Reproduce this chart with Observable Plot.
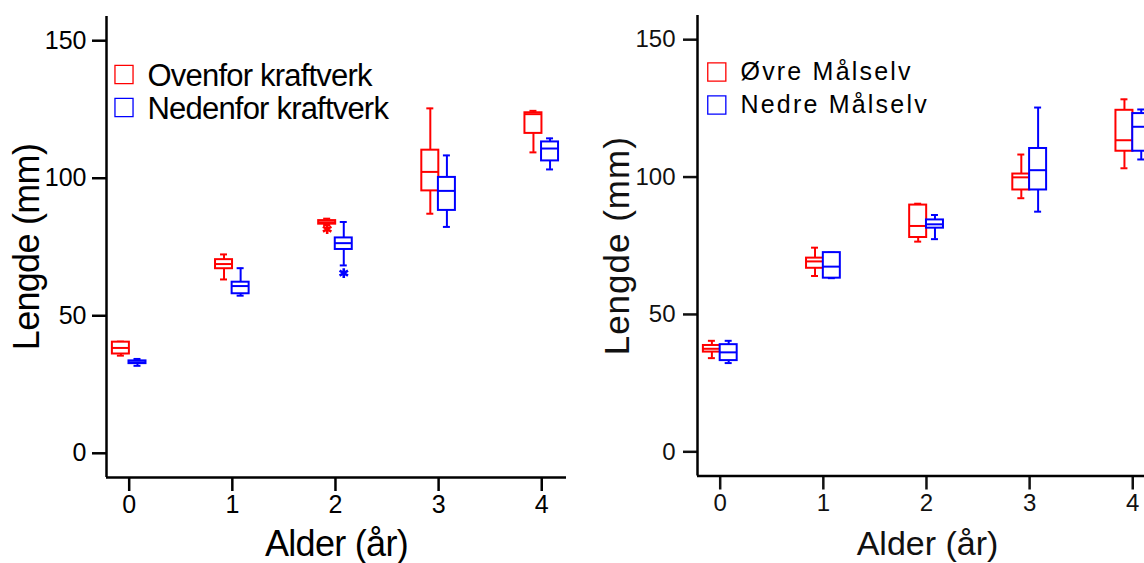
<!DOCTYPE html>
<html><head><meta charset="utf-8">
<script src="https://cdn.jsdelivr.net/npm/d3@7"></script>
<script src="https://cdn.jsdelivr.net/npm/@observablehq/plot@0.6"></script>
<style>
html,body{margin:0;padding:0;background:#fff;}
body{width:1144px;height:563px;overflow:hidden;position:relative;}
#left{position:absolute;left:0;top:0;width:580px;}
#right{position:absolute;left:590px;top:0;width:600px;}
svg{overflow:visible;max-width:none !important;}
</style></head><body>
<div id="left"></div><div id="right"></div>
<script>
// ---- data ----
const ages = [0, 1, 2, 3, 4];
const yTicks = [0, 50, 100, 150];

// Left panel: Ovenfor / Nedenfor kraftverk
const leftNames = ["Ovenfor kraftverk", "Nedenfor kraftverk"];
const ovenLo  = [35.5, 63.2, 83.0,  87.1, 109.4];
const ovenQ1  = [36.1, 67.1, 83.3,  95.4, 116.3];
const ovenMed = [38.3, 68.8, 84.0, 102.3, 123.3];
const ovenQ3  = [40.4, 70.4, 84.6, 110.2, 123.8];
const ovenHi  = [40.6, 72.3, 85.3, 125.4, 124.5];
const ovenOutAge = [2];
const ovenOutVal = [81.5];

const nedLo  = [31.8, 57.3, 68.3,  82.3, 103.2];
const nedQ1  = [32.6, 58.0, 74.1,  88.3, 106.3];
const nedMed = [33.1, 60.8, 76.4,  95.4, 110.8];
const nedQ3  = [33.6, 62.2, 78.3, 100.3, 113.2];
const nedHi  = [34.3, 67.3, 84.1, 108.3, 114.5];
const nedOutAge = [2];
const nedOutVal = [65.5];

// Right panel: Øvre / Nedre Målselv
const rightNames = ["Øvre Målselv", "Nedre Målselv"];
const ovreLo  = [34.1, 64.0, 76.5,  92.3, 103.2];
const ovreQ1  = [36.3, 66.8, 78.0,  95.3, 109.4];
const ovreMed = [37.5, 69.3, 82.2,  99.9, 113.4];
const ovreQ3  = [38.7, 70.5, 89.8, 101.1, 124.3];
const ovreHi  = [40.4, 74.3, 90.3, 108.2, 128.3];

const nedreLo  = [32.3, 63.2, 77.4,  87.4, 106.4];
const nedreQ1  = [33.2, 63.2, 81.4,  95.3, 109.4];
const nedreMed = [36.2, 67.4, 82.8, 102.5, 118.3];
const nedreQ3  = [39.0, 72.5, 84.4, 110.4, 123.1];
const nedreHi  = [40.4, 72.5, 86.2, 125.3, 124.6];

const xLabel = "Alder (år)";
const yLabel = "Lengde (mm)";

// ---- helpers ----
function rows(lo, q1, med, q3, hi) {
  return ages.map((a, i) => ({age: a, lo: lo[i], q1: q1[i], med: med[i], q3: q3[i], hi: hi[i]}));
}
function boxMarks(data, color, off) {
  const hw = -8.5, cap = -3.5, sw = 2;
  return [
    Plot.ruleX(data, {x: "age", y1: "q3", y2: "hi", dx: off, stroke: color, strokeWidth: sw}),
    Plot.ruleX(data, {x: "age", y1: "lo", y2: "q1", dx: off, stroke: color, strokeWidth: sw}),
    Plot.ruleY(data, {x1: "age", x2: "age", y: "hi", dx: off, insetLeft: cap, insetRight: cap, stroke: color, strokeWidth: sw}),
    Plot.ruleY(data, {x1: "age", x2: "age", y: "lo", dx: off, insetLeft: cap, insetRight: cap, stroke: color, strokeWidth: sw}),
    Plot.rect(data, {x1: "age", x2: "age", y1: "q1", y2: "q3", dx: off, insetLeft: hw, insetRight: hw, fill: "white", stroke: color, strokeWidth: sw}),
    Plot.ruleY(data, {x1: "age", x2: "age", y: "med", dx: off, insetLeft: hw, insetRight: hw, stroke: color, strokeWidth: sw})
  ];
}
function outlierMarks(ageArr, valArr, color, off) {
  const d = ageArr.map((a, i) => ({age: a, v: valArr[i]}));
  return Plot.dot(d, {x: "age", y: "v", dx: off, symbol: "asterisk", r: 4.6, stroke: color, strokeWidth: 2.6});
}
function legendMarks(names, colors, o) {
  const m = [];
  names.forEach((n, i) => {
    m.push(Plot.dot([n], {frameAnchor: "top-left", dx: o.sqx, dy: o.sqy + i * o.step, symbol: "square", r: 10.2, stroke: colors[i], strokeWidth: 1.3, fill: "none"}));
    m.push(Plot.text([n], {text: d => d, frameAnchor: "top-left", dx: o.tx, dy: o.ty + i * o.step, textAnchor: "start", lineAnchor: "middle", fontSize: o.fs, fill: "black"}));
  });
  return m;
}
const xDomain = [-0.22, 4.24];
const yDomain = [-8.8, 158.8];
const colors = ["#ff0000", "#0000ff"];

function styleAxes(svg, fs) {
  d3.select(svg).selectAll("g").each(function() {
    const a = this.getAttribute("aria-label") || "";
    if (a.endsWith("tick label")) {
      this.setAttribute("font-size", fs);
      this.style.fontSize = fs + "px";
      d3.select(this).selectAll("text").style("font-size", fs + "px");
    } else if (a.endsWith("axis tick")) {
      this.setAttribute("stroke-width", 2.5);
    }
  });
}

// ---- left ----
const leftPlot = Plot.plot({
  width: 580, height: 563,
  marginLeft: 106, marginRight: 14, marginTop: 16, marginBottom: 86,
  style: {fontFamily: "'Liberation Sans', Arial, sans-serif", color: "black", background: "white", maxWidth: "none"},
  x: {domain: xDomain},
  y: {domain: yDomain},
  marks: [
    Plot.axisX(ages, {tickSize: 14, tickPadding: 4, fontSize: 25, strokeWidth: 2.5, label: null, tickFormat: d => d}),
    Plot.axisY(yTicks, {tickSize: 14, tickPadding: 6, fontSize: 25, strokeWidth: 2.5, label: null}),
    Plot.ruleX([xDomain[0]], {strokeWidth: 2.5, stroke: "black"}),
    Plot.ruleY([yDomain[0]], {strokeWidth: 2.5, stroke: "black"}),
    ...boxMarks(rows(ovenLo, ovenQ1, ovenMed, ovenQ3, ovenHi), colors[0], -8.3),
    ...boxMarks(rows(nedLo, nedQ1, nedMed, nedQ3, nedHi), colors[1], 8.3),
    outlierMarks(ovenOutAge, ovenOutVal, colors[0], -8.3),
    outlierMarks(nedOutAge, nedOutVal, colors[1], 8.3),
    ...legendMarks(leftNames, colors, {sqx: 17.5, sqy: 58, tx: 41, ty: 60, step: 33, fs: 31}),
    Plot.text([xLabel], {text: d => d, frameAnchor: "bottom", textAnchor: "middle", dy: 67, lineAnchor: "middle", fontSize: 36}),
    Plot.text([yLabel], {text: d => d, frameAnchor: "left", textAnchor: "middle", dx: -79, rotate: -90, lineAnchor: "middle", fontSize: 36})
  ]
});
document.getElementById("left").append(leftPlot);
styleAxes(leftPlot, 25);

// ---- right ----
const rightPlot = Plot.plot({
  width: 577, height: 563,
  marginLeft: 107, marginRight: 10, marginTop: 15, marginBottom: 87.5,
  style: {fontFamily: "'Liberation Sans', Arial, sans-serif", color: "#111", background: "white", maxWidth: "none"},
  x: {domain: xDomain},
  y: {domain: yDomain},
  marks: [
    Plot.axisX(ages, {tickSize: 14, tickPadding: 4, fontSize: 24, strokeWidth: 2.5, label: null, tickFormat: d => d}),
    Plot.axisY(yTicks, {tickSize: 14, tickPadding: 8, fontSize: 24, strokeWidth: 2.5, label: null}),
    Plot.ruleX([xDomain[0]], {strokeWidth: 2.5, stroke: "black"}),
    Plot.ruleY([yDomain[0]], {strokeWidth: 2.5, stroke: "black"}),
    ...boxMarks(rows(ovreLo, ovreQ1, ovreMed, ovreQ3, ovreHi), colors[0], -8.3),
    ...boxMarks(rows(nedreLo, nedreQ1, nedreMed, nedreQ3, nedreHi), colors[1], 8.5),
    ...legendMarks(rightNames, colors, {sqx: 19.3, sqy: 56.5, tx: 43, ty: 56.5, step: 33, fs: 25}),
    Plot.text([xLabel], {text: d => d, frameAnchor: "bottom", textAnchor: "middle", dy: 68, lineAnchor: "middle", fontSize: 34}),
    Plot.text([yLabel], {text: d => d, frameAnchor: "left", textAnchor: "middle", dx: -80, rotate: -90, lineAnchor: "middle", fontSize: 35})
  ]
});
document.getElementById("right").append(rightPlot);
styleAxes(rightPlot, 24);

// letter spacing tweaks
d3.select(leftPlot).selectAll("text").each(function() {
  const t = this.textContent;
  if (leftNames.includes(t)) this.style.letterSpacing = "-0.8px";
  else if (t === xLabel || t === yLabel) this.style.letterSpacing = "-0.7px";
});
d3.select(rightPlot).selectAll("text").each(function() {
  const t = this.textContent;
  if (rightNames.includes(t)) this.style.letterSpacing = "2.2px";
  else if (t === yLabel) this.style.letterSpacing = "1px";
});
</script>
</body></html>
